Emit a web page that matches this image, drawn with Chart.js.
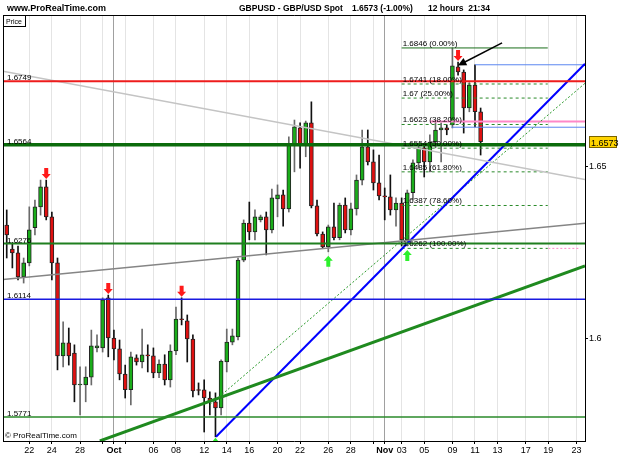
<!DOCTYPE html>
<html>
<head>
<meta charset="utf-8">
<script src="https://cdn.jsdelivr.net/npm/chart.js@4.4.1/dist/chart.umd.min.js"></script>
<style>
html, body { margin: 0; padding: 0; background: #fff; }
canvas { display: block; }
</style>
</head>
<body>
<canvas id="chart" width="625" height="469"></canvas>
<script>
// 12 hour GBPUSD candles, bar 0 = 22 Sep (first half)
const firstBar = -4;
const opens = [1.6330,1.6260,1.6249,1.6179,1.6220,1.6322,1.6383,1.6441,1.6354,1.6220,
	1.5949,1.5987,1.5957,1.5864,1.5864,1.5887,1.5972,1.5972,1.6118,1.6001,
	1.5969,1.5896,1.5850,1.5943,1.5931,1.5952,1.5949,1.5899,1.5925,1.5879,
	1.5963,1.6056,1.6051,1.5998,1.5850,1.5850,1.5826,1.5815,1.5797,1.5931,
	1.5989,1.6004,1.6228,1.6336,1.6310,1.6345,1.6354,1.6316,1.6406,1.6418,
	1.6377,1.6563,1.6613,1.6563,1.6628,1.6386,1.6304,1.6266,1.6325,1.6293,
	1.6388,1.6316,1.6377,1.6461,1.6558,1.6514,1.6453,1.6415,1.6412,1.6374,
	1.6394,1.6287,1.6424,1.6511,1.6555,1.6514,1.6572,1.6607,1.6613,1.6622,
	1.6791,1.6776,1.6671,1.6738,1.6660];
const highs = [1.6374,1.6278,1.6269,1.6234,1.6383,1.6403,1.6461,1.6461,1.6368,1.6234,
	1.6048,1.6030,1.5981,1.5917,1.5917,1.6024,1.6010,1.6118,1.6126,1.6024,
	1.5995,1.5922,1.5960,1.5952,1.6027,1.5981,1.5972,1.5937,1.5952,1.5981,
	1.6091,1.6118,1.6068,1.6010,1.5870,1.5879,1.5844,1.5841,1.5937,1.6027,
	1.6027,1.6234,1.6345,1.6397,1.6374,1.6359,1.6368,1.6435,1.6447,1.6432,
	1.6587,1.6636,1.6628,1.6633,1.6689,1.6403,1.6310,1.6330,1.6394,1.6394,
	1.6409,1.6394,1.6476,1.6607,1.6607,1.6549,1.6534,1.6438,1.6476,1.6409,
	1.6409,1.6432,1.6520,1.6563,1.6563,1.6593,1.6636,1.6628,1.6622,1.6846,
	1.6805,1.6782,1.6745,1.6797,1.6671];
const lows = [1.6234,1.6205,1.6170,1.6161,1.6211,1.6301,1.6359,1.6345,1.6170,1.5908,
	1.5917,1.5922,1.5815,1.5777,1.5815,1.5864,1.5960,1.5960,1.5946,1.5937,
	1.5879,1.5826,1.5806,1.5922,1.5914,1.5902,1.5885,1.5885,1.5864,1.5858,
	1.5952,1.6039,1.5931,1.5829,1.5835,1.5727,1.5777,1.5713,1.5777,1.5902,
	1.5981,1.5995,1.6223,1.6287,1.6287,1.6339,1.6243,1.6307,1.6354,1.6327,
	1.6368,1.6485,1.6496,1.6529,1.6380,1.6298,1.6263,1.6252,1.6287,1.6287,
	1.6307,1.6301,1.6359,1.6447,1.6505,1.6432,1.6403,1.6345,1.6359,1.6327,
	1.6269,1.6269,1.6403,1.6496,1.6470,1.6485,1.6555,1.6514,1.6593,1.6613,
	1.6767,1.6598,1.6660,1.6616,1.6534];
const closes = [1.6301,1.6249,1.6179,1.6220,1.6316,1.6383,1.6441,1.6354,1.6220,1.5949,
	1.5987,1.5949,1.5864,1.5867,1.5887,1.5978,1.5978,1.6112,1.6001,1.5969,
	1.5896,1.5850,1.5946,1.5931,1.5952,1.5949,1.5899,1.5925,1.5879,1.5963,
	1.6056,1.6054,1.5998,1.5847,1.5848,1.5826,1.5815,1.5797,1.5934,1.5989,
	1.6007,1.6228,1.6336,1.6310,1.6354,1.6354,1.6316,1.6409,1.6418,1.6377,
	1.6563,1.6616,1.6563,1.6628,1.6386,1.6304,1.6266,1.6325,1.6293,1.6388,
	1.6316,1.6377,1.6461,1.6558,1.6514,1.6453,1.6415,1.6412,1.6374,1.6394,
	1.6287,1.6424,1.6511,1.6555,1.6514,1.6572,1.6607,1.6613,1.6607,1.6794,
	1.6776,1.6671,1.6738,1.6660,1.6573];
const lastClose = 1.6573;

// date axis (bar number of each day start)
const tickBars = [0,4,9,13,15,17,22,26,31,35,39,44,48,53,57,61,63,66,70,75,79,83,88,92,97];
const tickText = ['22','24','28','','Oct','','06','08','12','14','16','20','22','26','28','','Nov','03','05','09','11','13','17','19','23'];
const monthBars = [15, 63];
const priceTicks = [1.6, 1.65];

// drawings
const levelPrices = [1.6749, 1.6564, 1.6276, 1.6114, 1.5771];
const fibPrices = [1.6846, 1.6741, 1.67, 1.6623, 1.6554, 1.6485, 1.6387, 1.6262];
const fibPct = ['0.00', '18.00', '25.00', '38.20', '50.00', '61.80', '78.60', '100.00'];
const fibBars = [66, 91.9];
const trendLines = [
	[-4.66, 1.6778, 98.5, 1.6463],
	[-4.66, 1.6171, 98.5, 1.6335],
	[12.5, 1.5701, 98.5, 1.6211],
	[33.1, 1.5713, 98.5, 1.6800],
	[32.0, 1.5806, 98.5, 1.6743]
];
const segments = [
	[71, 98.5, 1.6632],
	[79, 98.5, 1.6797],
	[74.85, 98.5, 1.6615],
	[92, 97.7, 1.6262]
];
const sellArrows = [3, 14, 27, 76];
const buyArrows = [53, 67];
const buyMarks = [33];
const pointer = [83.8, 1.6861, 76.6, 1.6800];

const X_MIN = -4.66, X_MAX = 98.5;
const Y_MIN = 1.57008, Y_MAX = 1.6942;
const FONT = "'Liberation Sans', Arial, sans-serif";

const levelStyle = [
	{ color: '#ee1c1c', width: 2 },
	{ color: '#0b6b0b', width: 3.5 },
	{ color: '#1f7f1f', width: 2 },
	{ color: '#1a1ae0', width: 1.5 },
	{ color: '#2a8a2a', width: 1.5 }
];
const trendStyle = [
	{ color: '#c4c4c4', width: 1.5 },
	{ color: '#858585', width: 1.5 },
	{ color: '#1f8a1f', width: 3 },
	{ color: '#0000ff', width: 2 },
	{ color: '#2a9a2a', width: 1, dash: [2, 2] }
];
const segmentStyle = [
	{ color: '#ff88c8', width: 2 },
	{ color: '#5a86f0', width: 1 },
	{ color: '#5a86f0', width: 1 },
	{ color: '#ff88c8', width: 1, dash: [2, 2] }
];

document.addEventListener("DOMContentLoaded", () => {
	initChart();
});

function lineSet(points, style) {
	return {
		type: 'line',
		data: points.map(p => ({ x: p[0], y: p[1] })),
		borderColor: style.color,
		borderWidth: style.width,
		borderDash: style.dash || [],
		pointRadius: 0,
		fill: false,
		tension: 0,
		order: -1
	};
}

function initChart() {
	const ctx = document.getElementById('chart');
	if (!ctx) return;

	const bars = opens.map((o, k) => firstBar + k);
	const up = opens.map((o, k) => closes[k] >= o);
	const barHigh = i => highs[i - firstBar];
	const barLow = i => lows[i - firstBar];

	const datasets = [
		{
			type: 'bar',
			data: bars.map((x, k) => ({ x, y: [opens[k], closes[k]] })),
			backgroundColor: up.map(u => u ? '#1aad1a' : '#e01010'),
			borderColor: '#222',
			borderWidth: 1,
			borderSkipped: false,
			barThickness: 4,
			minBarLength: 1,
			grouped: false,
			order: 1
		},
		{
			type: 'bar',
			data: bars.map((x, k) => ({ x, y: [lows[k], highs[k]] })),
			backgroundColor: up.map(u => u ? '#6a6a6a' : '#111'),
			borderWidth: 0,
			barThickness: 1,
			grouped: false,
			order: 2
		}
	];

	levelPrices.forEach((p, k) => datasets.push(lineSet([[X_MIN, p], [X_MAX, p]], levelStyle[k])));
	trendLines.forEach((t, k) => datasets.push(lineSet([[t[0], t[1]], [t[2], t[3]]], trendStyle[k])));
	segments.forEach((s, k) => datasets.push(lineSet([[s[0], s[2]], [s[1], s[2]]], segmentStyle[k])));
	fibPrices.forEach((p, k) => datasets.push(lineSet([[fibBars[0], p], [fibBars[1], p]],
		k === 0 ? { color: '#1a6e1a', width: 1 } : { color: '#2a8a2a', width: 1, dash: [3, 3] })));

	const overlay = {
		id: 'overlay',
		beforeDraw(chart) {
			const c = chart.ctx;
			c.save();
			c.fillStyle = '#fff';
			c.fillRect(0, 0, chart.width, chart.height);
			c.restore();
		},
		afterDatasetsDraw(chart) {
			const c = chart.ctx;
			const a = chart.chartArea;
			const xs = chart.scales.x, ys = chart.scales.y;
			c.save();
			c.beginPath();
			c.rect(a.left, a.top, a.right - a.left, a.bottom - a.top);
			c.clip();

			// red sell arrows above highs
			c.fillStyle = '#ff1a1a';
			sellArrows.forEach(i => {
				const cx = xs.getPixelForValue(i);
				const tip = ys.getPixelForValue(barHigh(i)) - 1;
				c.beginPath();
				c.moveTo(cx - 2, tip - 11);
				c.lineTo(cx + 2, tip - 11);
				c.lineTo(cx + 2, tip - 5);
				c.lineTo(cx + 4.5, tip - 5);
				c.lineTo(cx, tip);
				c.lineTo(cx - 4.5, tip - 5);
				c.lineTo(cx - 2, tip - 5);
				c.closePath();
				c.fill();
			});

			// green buy arrows below lows
			c.fillStyle = '#2cf02c';
			buyArrows.forEach(i => {
				const cx = xs.getPixelForValue(i);
				const tip = ys.getPixelForValue(barLow(i)) + 4;
				c.beginPath();
				c.moveTo(cx, tip);
				c.lineTo(cx + 4.5, tip + 5);
				c.lineTo(cx + 2, tip + 5);
				c.lineTo(cx + 2, tip + 11);
				c.lineTo(cx - 2, tip + 11);
				c.lineTo(cx - 2, tip + 5);
				c.lineTo(cx - 4.5, tip + 5);
				c.closePath();
				c.fill();
			});
			buyMarks.forEach(i => {
				const cx = xs.getPixelForValue(i);
				const tip = ys.getPixelForValue(barLow(i)) + 1;
				c.beginPath();
				c.moveTo(cx, tip);
				c.lineTo(cx + 5, tip + 6);
				c.lineTo(cx - 5, tip + 6);
				c.closePath();
				c.fill();
			});

			// black pointer arrow
			const x1 = xs.getPixelForValue(pointer[0]), y1 = ys.getPixelForValue(pointer[1]);
			const x2 = xs.getPixelForValue(pointer[2]), y2 = ys.getPixelForValue(pointer[3]);
			const ang = Math.atan2(y2 - y1, x2 - x1);
			c.strokeStyle = '#000';
			c.lineWidth = 1.5;
			c.beginPath();
			c.moveTo(x1, y1);
			c.lineTo(x2, y2);
			c.stroke();
			c.fillStyle = '#000';
			c.beginPath();
			c.moveTo(x2 + Math.cos(ang) * 4, y2 + Math.sin(ang) * 4);
			c.lineTo(x2 + Math.cos(ang + 2.4) * 6, y2 + Math.sin(ang + 2.4) * 6);
			c.lineTo(x2 + Math.cos(ang - 2.4) * 6, y2 + Math.sin(ang - 2.4) * 6);
			c.closePath();
			c.fill();

			// level and fibonacci labels
			c.fillStyle = '#000';
			c.font = '8px ' + FONT;
			c.textBaseline = 'alphabetic';
			levelPrices.forEach(p => {
				c.fillText(p.toFixed(4), a.left + 4, ys.getPixelForValue(p) - 1);
			});
			fibPrices.forEach((p, k) => {
				c.fillText(String(p) + ' (' + fibPct[k] + '%)', xs.getPixelForValue(fibBars[0]) + 1, ys.getPixelForValue(p) - 2);
			});

			c.fillText('\u00A9 ProRealTime.com', a.left + 2, a.bottom - 3);
			c.restore();
		},
		afterDraw(chart) {
			const c = chart.ctx;
			const a = chart.chartArea;
			const ys = chart.scales.y;
			c.save();

			// frame
			c.strokeStyle = '#000';
			c.lineWidth = 1;
			c.beginPath();
			c.moveTo(a.left + 0.5, a.bottom);
			c.lineTo(a.left + 0.5, a.top + 0.5);
			c.lineTo(a.right, a.top + 0.5);
			c.stroke();

			// Price box
			c.strokeRect(a.left + 0.5, a.top + 0.5, 22, 11);
			c.fillStyle = '#000';
			c.font = '7px ' + FONT;
			c.fillText('Price', a.left + 3, a.top + 9);

			// header
			c.font = 'bold 9px ' + FONT;
			c.fillText('www.ProRealTime.com', 7, 11);
			c.font = 'bold 8.5px ' + FONT;
			c.fillText('GBPUSD - GBP/USD Spot', 239, 11);
			c.fillText('1.6573 (-1.00%)', 352, 11);
			c.fillText('12 hours  21:34', 428, 11);

			// last price tag
			const py = Math.round(ys.getPixelForValue(lastClose));
			c.fillStyle = '#ffd400';
			c.fillRect(589, py - 6, 28, 12);
			c.strokeStyle = '#7a6400';
			c.strokeRect(589.5, py - 5.5, 27, 11);
			c.fillStyle = '#000';
			c.font = '9px ' + FONT;
			c.fillText(lastClose.toFixed(4), 591, py + 3.5);
			c.restore();
		}
	};

	new Chart(ctx, {
		type: 'bar',
		data: { datasets },
		options: {
			responsive: false,
			devicePixelRatio: 1,
			animation: false,
			events: [],
			layout: { padding: { left: 3, top: 15, right: 0, bottom: 0 } },
			plugins: {
				legend: { display: false },
				tooltip: { enabled: false }
			},
			scales: {
				x: {
					type: 'linear',
					min: X_MIN,
					max: X_MAX,
					bounds: 'data',
					offset: false,
					afterFit: s => { s.height = 28; },
					afterBuildTicks: s => { s.ticks = tickBars.map(v => ({ value: v })); },
					ticks: {
						autoSkip: false,
						maxRotation: 0,
						minRotation: 0,
						padding: 1,
						color: '#000',
						font: c => ({
							family: FONT,
							size: 9,
							weight: (c.tick && monthBars.includes(c.tick.value)) ? 'bold' : 'normal'
						}),
						callback: (v, i) => tickText[i]
					},
					grid: {
						offset: false,
						color: c => (c.tick && monthBars.includes(c.tick.value)) ? '#a0a0a0' : '#e4e4e4',
						lineWidth: 1,
						tickLength: 3,
						tickColor: '#000'
					},
					border: { color: '#000' }
				},
				y: {
					position: 'right',
					min: Y_MIN,
					max: Y_MAX,
					bounds: 'data',
					afterFit: s => { s.width = 40; },
					afterBuildTicks: s => { s.ticks = priceTicks.map(v => ({ value: v })); },
					ticks: {
						color: '#000',
						padding: 1,
						font: { family: FONT, size: 9 },
						callback: v => String(v)
					},
					grid: {
						drawOnChartArea: false,
						tickLength: 3,
						tickColor: '#000'
					},
					border: { color: '#000' }
				}
			}
		},
		plugins: [overlay]
	});
}
</script>
</body>
</html>
